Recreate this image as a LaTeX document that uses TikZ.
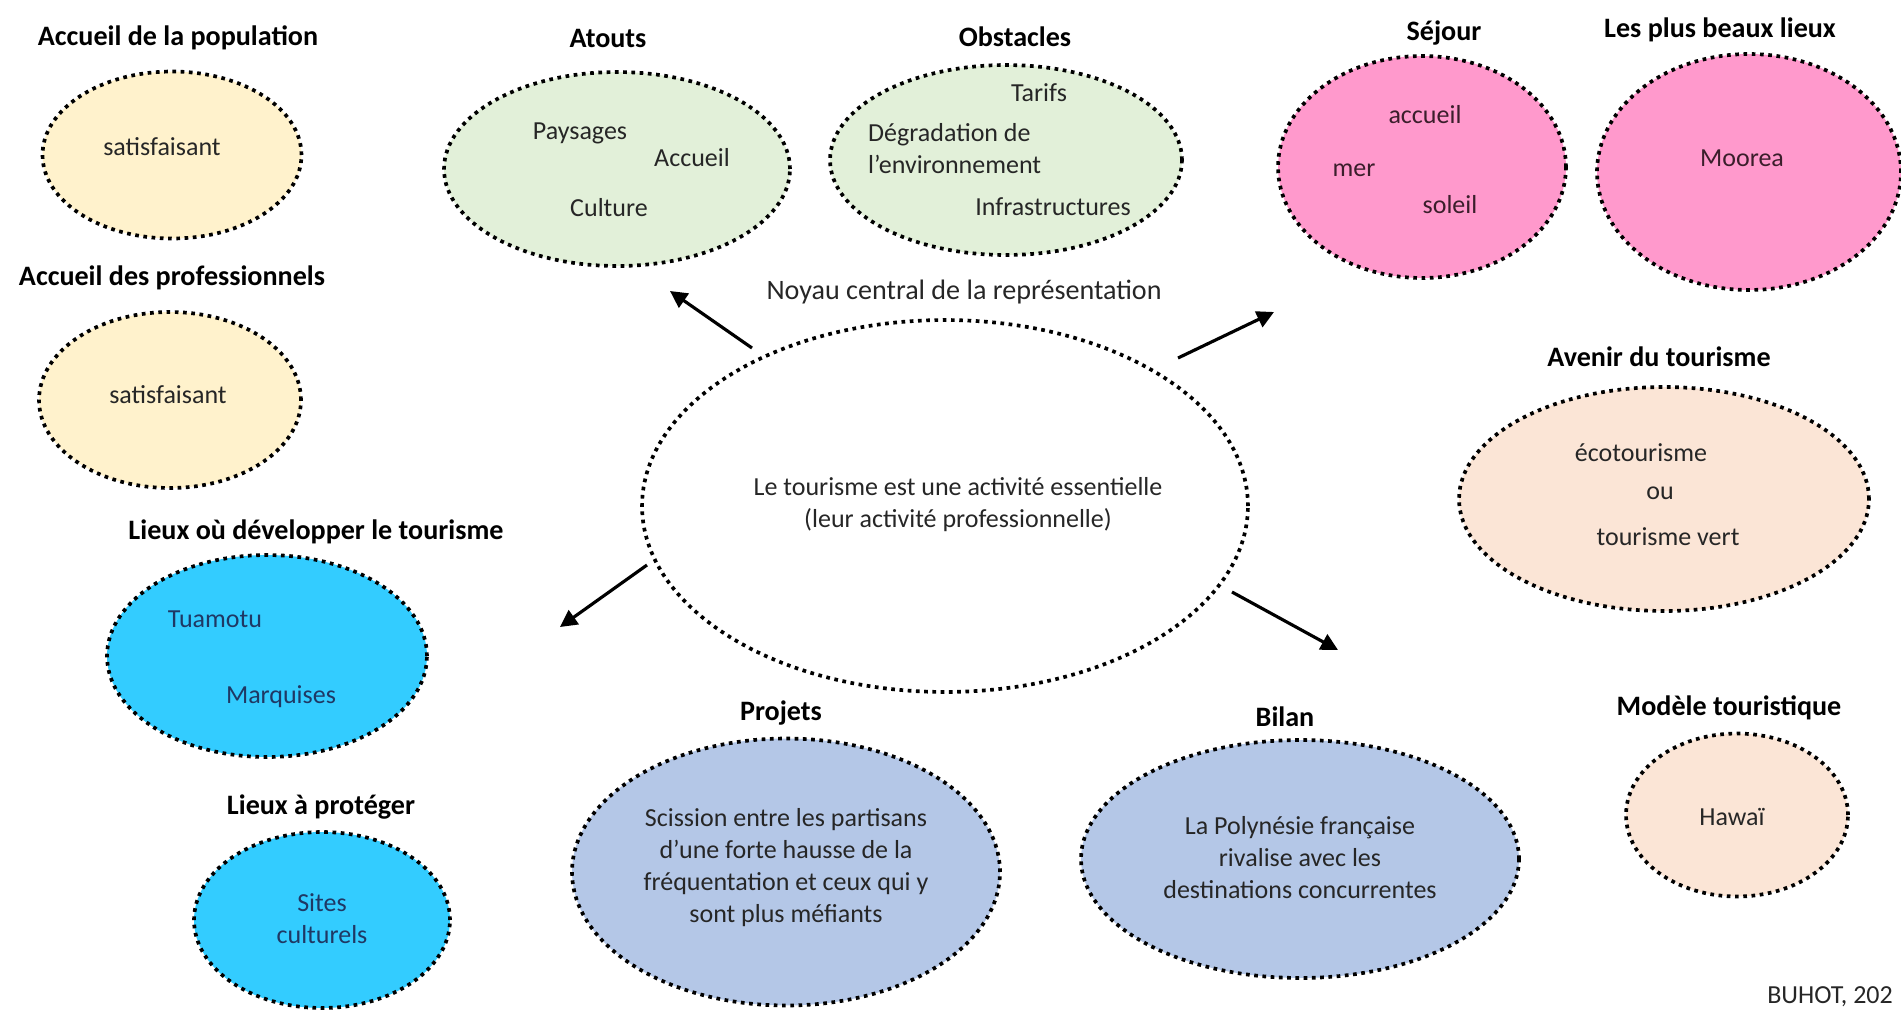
\documentclass[tikz,border=0pt]{standalone}
\usepackage{fontspec}
\setmainfont{Carlito}
\usetikzlibrary{arrows.meta,positioning,shapes.geometric}

\definecolor{creme}{HTML}{FFF2CC}
\definecolor{vert}{HTML}{E2F0D9}
\definecolor{cyan}{HTML}{33CCFF}
\definecolor{lavande}{HTML}{B4C7E7}
\definecolor{rose}{HTML}{FF99CC}
\definecolor{peche}{HTML}{FBE5D6}
\definecolor{encre}{HTML}{262626}
\definecolor{marine}{HTML}{1F3864}
\definecolor{prune}{HTML}{3B1E2B}

\begin{document}
\begin{tikzpicture}[x=0.02cm, y=-0.02cm,
  bulle/.style={draw, ellipse, line width=2.1pt, dash pattern=on 2.1pt off 2.6pt, inner sep=0pt},
  titre/.style={font=\fontsize{16}{19}\selectfont\bfseries},
  mot/.style={font=\fontsize{14.8}{18.2}\selectfont, text=encre, align=center},
  arr/.style={-{Triangle[length=3.4mm,width=3.4mm]}, line width=1.8pt}
]
\useasboundingbox (0,0) rectangle (1901,1012);

% colonne de gauche
\node[titre] (tPop) at (178,38) {Accueil de la population};
\node[bulle, fill=creme, minimum width=5.18cm, minimum height=3.34cm] (ePop) at (172,155) {};
\node[mot] (sPop) at (162,147) {satisfaisant};

\node[titre] (tPro) at (172,278) {Accueil des professionnels};
\node[bulle, fill=creme, minimum width=5.24cm, minimum height=3.52cm] (ePro) at (170,400) {};
\node[mot] (sPro) at (168,395) {satisfaisant};

\node[titre] (tDev) at (316,532) {Lieux où développer le tourisme};
\node[bulle, fill=cyan, minimum width=6.40cm, minimum height=4.04cm] (eDev) at (267,656) {};
\node[mot, text=marine] (tua) at (215,619) {Tuamotu};
\node[mot, text=marine] (mar) at (281,697) {Marquises};

\node[titre] (tPrt) at (321,807) {Lieux à protéger};
\node[bulle, fill=cyan, minimum width=5.12cm, minimum height=3.52cm] (ePrt) at (322,920) {};
\node[mot, text=marine] (sit) at (322,919) {Sites\\culturels};

% haut
\node[titre] (tAto) at (608,38) {Atouts};
\node[bulle, fill=vert, minimum width=6.92cm, minimum height=3.88cm] (eAto) at (617,169) {};
\node[mot] (pay) at (580,133) {Paysages};
\node[mot] (acc) at (692,158) {Accueil};
\node[mot] (cul) at (609,208) {Culture};

\node[titre] (tObs) at (1015,37) {Obstacles};
\node[bulle, fill=vert, minimum width=7.04cm, minimum height=3.80cm] (eObs) at (1006,160) {};
\node[mot] (tar) at (1039,93) {Tarifs};
\node[mot, align=left, anchor=west] (deg) at (862,149) {Dégradation de\\l’environnement};
\node[mot] (inf) at (1053,207) {Infrastructures};

% noyau
\node[font=\fontsize{16}{19}\selectfont, text=encre] (tNoy) at (964,292) {Noyau central de la représentation};
\node[bulle, fill=white, minimum width=12.12cm, minimum height=7.44cm] (core) at (945,506) {};
\node[mot] (ess) at (958,505) {Le tourisme est une activité essentielle\\(leur activité professionnelle)};

\coordinate (q1) at (752,348);
\coordinate (p1) at (670,291);
\coordinate (q2) at (1178,358);
\coordinate (p2) at (1274,312);
\coordinate (q3) at (647,565);
\coordinate (p3) at (560,627);
\coordinate (q4) at (1232,592);
\coordinate (p4) at (1338,650);
\draw[arr] (q1) -- (p1);
\draw[arr] (q2) -- (p2);
\draw[arr] (q3) -- (p3);
\draw[arr] (q4) -- (p4);

% bas
\node[titre] (tPrj) at (781,713) {Projets};
\node[bulle, fill=lavande, minimum width=8.56cm, minimum height=5.34cm] (ePrj) at (786,872) {};
\node[mot] (sci) at (786,868) {Scission entre les partisans\\d’une forte hausse de la\\fréquentation et ceux qui y\\sont plus méfiants};

\node[titre] (tBil) at (1285,717) {Bilan};
\node[bulle, fill=lavande, minimum width=8.76cm, minimum height=4.76cm] (eBil) at (1300,859) {};
\node[mot] (riv) at (1300,858) {La Polynésie française\\rivalise avec les\\destinations concurrentes};

% droite
\node[titre] (tSej) at (1444,33) {Séjour};
\node[bulle, fill=rose, minimum width=5.76cm, minimum height=4.44cm] (eSej) at (1422,167) {};
\node[mot, text=prune] (acu) at (1425,115) {accueil};
\node[mot, text=prune] (mer) at (1354,170) {mer};
\node[mot, text=prune] (sol) at (1450,205) {soleil};

\node[titre] (tBea) at (1720,30) {Les plus beaux lieux};
\node[bulle, fill=rose, minimum width=6.08cm, minimum height=4.72cm] (eBea) at (1749,172) {};
\node[mot, text=prune] (moo) at (1742,158) {Moorea};

\node[titre] (tAve) at (1659,357) {Avenir du tourisme};
\node[bulle, fill=peche, minimum width=8.20cm, minimum height=4.48cm] (eAve) at (1664,499) {};
\node[mot] (eco) at (1641,453) {écotourisme};
\node[mot] (ou) at (1660,493) {ou};
\node[mot] (tve) at (1668,537) {tourisme vert};

\node[titre] (tMod) at (1729,708) {Modèle touristique};
\node[bulle, fill=peche, minimum width=4.44cm, minimum height=3.26cm] (eMod) at (1737,815) {};
\node[mot] (haw) at (1732,817) {Hawaï};

\node[mot, anchor=east] (src) at (1899,997) {BUHOT, 202};
\end{tikzpicture}
\end{document}
